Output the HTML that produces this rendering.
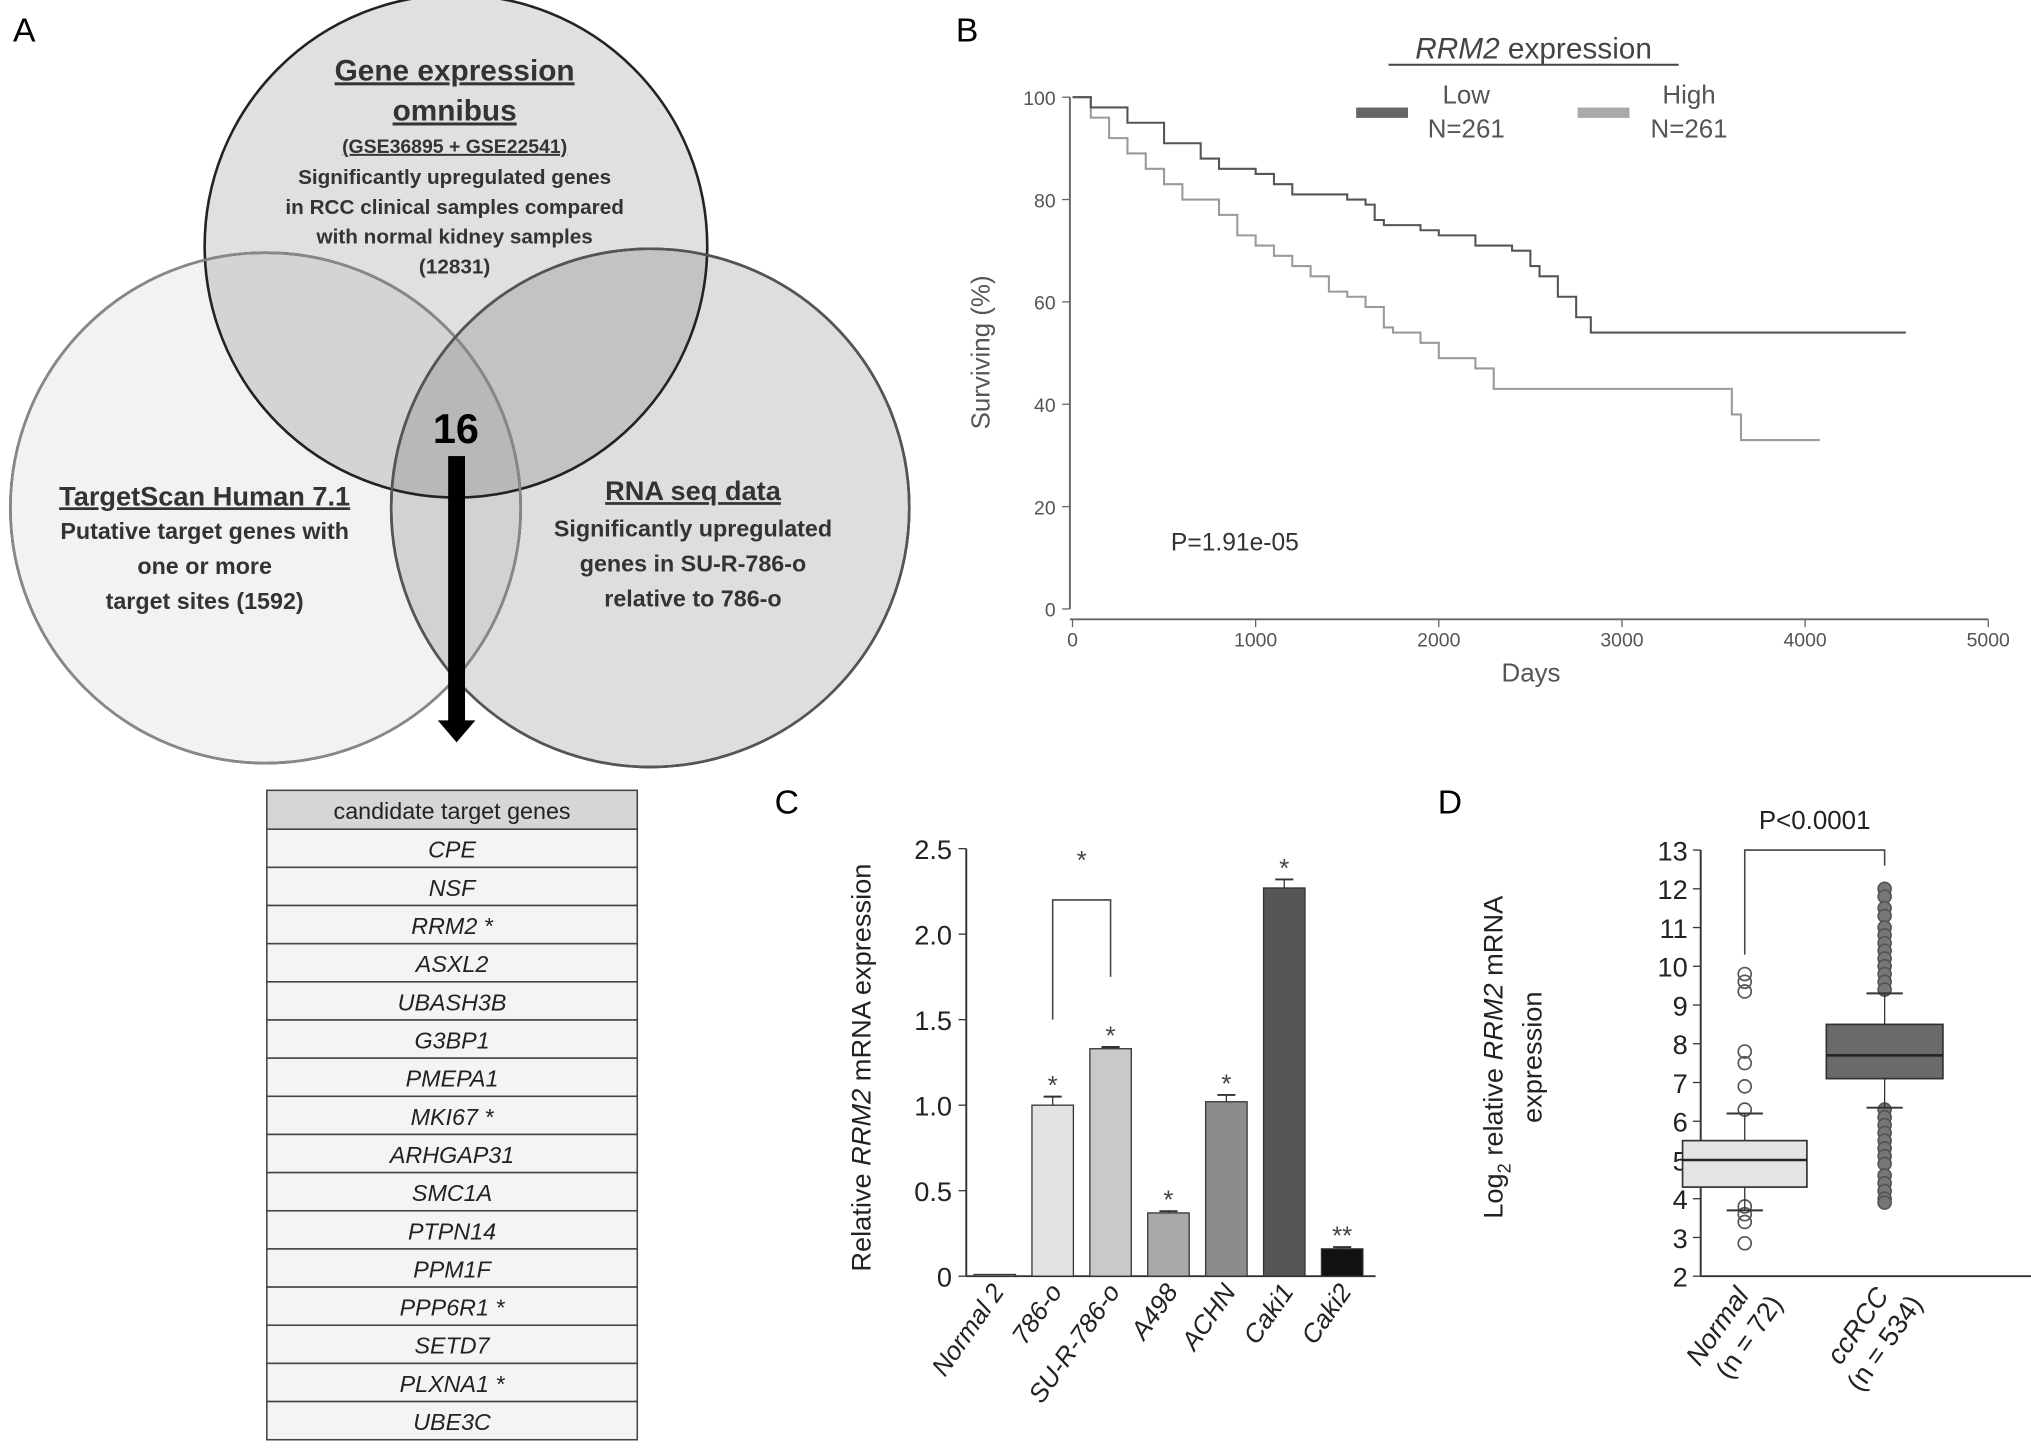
<!DOCTYPE html>
<html><head><meta charset="utf-8"><style>
html,body{margin:0;padding:0;background:#fff}
svg{display:block;font-family:"Liberation Sans","DejaVu Sans",sans-serif}
</style></head><body>
<svg id="fig" width="2031" height="1455" viewBox="0 0 1568 1123" preserveAspectRatio="none" xmlns="http://www.w3.org/2000/svg">
<rect width="1568" height="1123" fill="#fff"/>
<g>
<text x="10" y="32" font-size="26">A</text>
<circle cx="205" cy="392" r="197" fill="#f2f2f2" stroke="#222" stroke-width="2"/>
<circle cx="502" cy="392" r="200" fill="rgba(0,0,0,0.13)" stroke="#222" stroke-width="2"/>
<circle cx="352" cy="190" r="194" fill="rgba(0,0,0,0.12)" stroke="#222" stroke-width="2"/>
<circle cx="205" cy="392" r="197" fill="none" stroke="#888" stroke-width="2"/>
<circle cx="502" cy="392" r="200" fill="none" stroke="#555" stroke-width="2"/>
<g font-weight="bold" fill="#333" text-anchor="middle">
<text x="351" y="62" font-size="23" text-decoration="underline">Gene expression</text>
<text x="351" y="93" font-size="23" text-decoration="underline">omnibus</text>
<text x="351" y="118" font-size="15" text-decoration="underline">(GSE36895 + GSE22541)</text>
<text x="351" y="142" font-size="16">Significantly upregulated genes</text>
<text x="351" y="165" font-size="16">in RCC clinical samples compared</text>
<text x="351" y="188" font-size="16">with normal kidney samples</text>
<text x="351" y="211" font-size="16">(12831)</text>
<text x="158" y="390" font-size="21" text-decoration="underline">TargetScan Human 7.1</text>
<text x="158" y="416" font-size="18">Putative target genes with</text>
<text x="158" y="443" font-size="18">one or more</text>
<text x="158" y="470" font-size="18">target sites (1592)</text>
<text x="535" y="386" font-size="21" text-decoration="underline">RNA seq data</text>
<text x="535" y="414" font-size="18">Significantly upregulated</text>
<text x="535" y="441" font-size="18">genes in SU-R-786-o</text>
<text x="535" y="468" font-size="18">relative to 786-o</text>
<text x="352" y="342" font-size="32" fill="#000">16</text>
</g>
<rect x="346" y="352" width="13" height="210" fill="#000"/>
<polygon points="338,556 367,556 352.5,573" fill="#000"/>
</g>
<g id="table" font-size="18" fill="#222" text-anchor="middle"></g>
<g id="pb"></g>
<g id="pc"></g>
<g id="pd"></g>
</svg>
<script>
const NS="http://www.w3.org/2000/svg";
function mk(p,t,a,txt){const e=document.createElementNS(NS,t);for(const k in a)e.setAttribute(k,a[k]);if(txt!==undefined)e.textContent=txt;p.appendChild(e);return e;}

const genes=["CPE","NSF","RRM2 *","ASXL2","UBASH3B","G3BP1","PMEPA1","MKI67 *","ARHGAP31","SMC1A","PTPN14","PPM1F","PPP6R1 *","SETD7","PLXNA1 *","UBE3C"];
const tb=document.getElementById('table');
let hdr=mk(tb,'rect',{x:206,y:610,width:286,height:30,fill:'#d6d6d6',stroke:'#444','stroke-width':1.2});


mk(tb,'text',{x:349,y:632},'candidate target genes');
genes.forEach((g,i)=>{const y=640+i*29.45;
 const r=mk(tb,'rect',{x:206,y:y,width:286,height:29.45,fill:'#f4f4f4',stroke:'#444','stroke-width':1.2});
 
 
 mk(tb,'text',{x:349,y:y+22,'font-style':'italic'},g);});

const lowT=[0,100,300,500,700,800,1000,1100,1200,1500,1600,1650,1700,1900,2000,2200,2400,2500,2550,2650,2750,2830,4550];
const lowS=[100,98,95,91,88,86,85,83,81,80,79,76,75,74,73,71,70,67,65,61,57,54,54];
const highT=[0,100,200,300,400,500,600,800,900,1000,1100,1200,1300,1400,1500,1600,1700,1750,1900,2000,2200,2300,3550,3600,3650,4080];
const highS=[100,96,92,89,86,83,80,77,73,71,69,67,65,62,61,59,55,54,52,49,47,43,43,38,33,33];
const bXT=[0,1000,2000,3000,4000,5000], bYT=[0,20,40,60,80,100];
const pb=document.getElementById('pb');
const bx=d=>828+d*(1535-828)/5000, by=v=>470-v*3.95;
mk(pb,'text',{x:738,y:32,'font-size':26},'B');
mk(pb,'line',{x1:826,y1:75,x2:826,y2:470,stroke:'#666','stroke-width':1.5});
mk(pb,'line',{x1:826,y1:478,x2:1535,y2:478,stroke:'#666','stroke-width':1.5});
bYT.forEach(v=>{mk(pb,'line',{x1:820,y1:by(v),x2:826,y2:by(v),stroke:'#666'});mk(pb,'text',{x:815,y:by(v)+6,'font-size':15,fill:'#555','text-anchor':'end'},v);});
bXT.forEach(v=>{mk(pb,'line',{x1:bx(v),y1:478,x2:bx(v),y2:484,stroke:'#666'});mk(pb,'text',{x:bx(v),y:499,'font-size':15,fill:'#555','text-anchor':'middle'},v);});
mk(pb,'text',{x:1182,y:526,'font-size':20,fill:'#555','text-anchor':'middle'},'Days');
mk(pb,'text',{x:0,y:0,'font-size':20,fill:'#555','text-anchor':'middle',transform:'translate(764,272) rotate(-90)'},'Surviving (%)');
const ti=mk(pb,'text',{x:1184,y:45,'font-size':23,fill:'#444','text-anchor':'middle'});
mk(ti,'tspan',{'font-style':'italic'},'RRM2');mk(ti,'tspan',{},' expression');
mk(pb,'line',{x1:1072,y1:50,x2:1296,y2:50,stroke:'#444','stroke-width':1.5});
mk(pb,'rect',{x:1047,y:83,width:40,height:8,fill:'#666'});
mk(pb,'text',{x:1132,y:80,'font-size':20,fill:'#555','text-anchor':'middle'},'Low');
mk(pb,'text',{x:1132,y:106,'font-size':20,fill:'#555','text-anchor':'middle'},'N=261');
mk(pb,'rect',{x:1218,y:83,width:40,height:8,fill:'#aaa'});
mk(pb,'text',{x:1304,y:80,'font-size':20,fill:'#555','text-anchor':'middle'},'High');
mk(pb,'text',{x:1304,y:106,'font-size':20,fill:'#555','text-anchor':'middle'},'N=261');
mk(pb,'text',{x:904,y:425,'font-size':19,fill:'#333'},'P=1.91e-05');
function km(T,S,col,name){let d=`M${bx(T[0])},${by(S[0])}`;for(let i=1;i<T.length;i++){d+=` H${bx(T[i])} V${by(S[i])}`;}
 const p=mk(pb,'path',{d:d,fill:'none',stroke:col,'stroke-width':1.6});
 
 }
km(highT,highS,'#9a9a9a','high-expression-curve');
km(lowT,lowS,'#555','low-expression-curve');

const cCats=["Normal 2","786-o","SU-R-786-o","A498","ACHN","Caki1","Caki2"];
const cVals=[0.01,1.0,1.33,0.37,1.02,2.27,0.16];
const cErr=[0,0.05,0.01,0.01,0.04,0.05,0.01];
const cMarks=["","*","*","*","*","*","**"];
const cYT=["0","0.5","1.0","1.5","2.0","2.5"];
const cCol=['#bbb','#e2e2e2','#c9c9c9','#a9a9a9','#8c8c8c','#565656','#111'];
const pc=document.getElementById('pc');
const cy=v=>985-v*132, cx=i=>768+i*44.7;
mk(pc,'text',{x:598,y:628,'font-size':26},'C');
mk(pc,'line',{x1:746,y1:655,x2:746,y2:985,stroke:'#333','stroke-width':1.5});
mk(pc,'line',{x1:746,y1:985,x2:1062,y2:985,stroke:'#333','stroke-width':1.5});
cYT.forEach(t=>{const v=parseFloat(t);mk(pc,'line',{x1:740,y1:cy(v),x2:746,y2:cy(v),stroke:'#333'});mk(pc,'text',{x:735,y:cy(v)+8,'font-size':21,fill:'#222','text-anchor':'end'},t);});
const yl=mk(pc,'text',{x:0,y:0,'font-size':21,fill:'#222','text-anchor':'middle',transform:'translate(672,824) rotate(-90)'});
mk(yl,'tspan',{},'Relative ');mk(yl,'tspan',{'font-style':'italic'},'RRM2');mk(yl,'tspan',{},' mRNA expression');
cCats.forEach((c,i)=>{const x=cx(i);
 const r=mk(pc,'rect',{x:x-16,y:cy(cVals[i]),width:32,height:985-cy(cVals[i]),fill:cCol[i],stroke:'#333','stroke-width':1});
 
 
 if(cErr[i]>0){mk(pc,'line',{x1:x,y1:cy(cVals[i]),x2:x,y2:cy(cVals[i]+cErr[i]),stroke:'#333'});mk(pc,'line',{x1:x-7,y1:cy(cVals[i]+cErr[i]),x2:x+7,y2:cy(cVals[i]+cErr[i]),stroke:'#333','stroke-width':1.5});}
 if(cMarks[i])mk(pc,'text',{x:x,y:cy(cVals[i]+cErr[i])-2,'font-size':20,fill:'#444','text-anchor':'middle'},cMarks[i]);
 mk(pc,'text',{x:0,y:0,'font-size':20,'font-style':'italic',fill:'#222','text-anchor':'end',transform:`translate(${x+8},${997}) rotate(-55)`},c);
});
mk(pc,'path',{d:`M${cx(1)},${cy(1.5)} V${cy(2.2)} H${cx(2)} V${cy(1.75)}`,fill:'none',stroke:'#444','stroke-width':1.2});
mk(pc,'text',{x:(cx(1)+cx(2))/2,y:cy(2.38),'font-size':20,fill:'#444','text-anchor':'middle'},'*');

const dCats=["Normal","ccRCC"], dN=["(n = 72)","(n = 534)"];
const dQ1=[4.3,7.1], dMed=[5.0,7.7], dQ3=[5.5,8.5], dLo=[3.7,6.35], dHi=[6.2,9.3];
const dOutN=[9.8,9.6,9.35,7.8,7.5,6.9,6.3,3.8,3.6,3.4,2.85];
const dOutC=[12.0,11.8,11.5,11.3,11.0,10.8,10.6,10.4,10.2,10.0,9.8,9.6,9.4,6.3,6.1,5.9,5.7,5.5,5.3,5.1,4.9,4.6,4.4,4.2,4.0,3.9];
const dYT=[2,3,4,5,6,7,8,9,10,11,12,13];
const pd=document.getElementById('pd');
const dy=v=>985-(v-2)*29.9, dx=i=>1347+i*108;
mk(pd,'text',{x:1110,y:628,'font-size':26},'D');
mk(pd,'line',{x1:1313,y1:656,x2:1313,y2:985,stroke:'#333','stroke-width':1.5});
mk(pd,'line',{x1:1313,y1:985,x2:1568,y2:985,stroke:'#333','stroke-width':1.5});
dYT.forEach(v=>{mk(pd,'line',{x1:1307,y1:dy(v),x2:1313,y2:dy(v),stroke:'#333'});mk(pd,'text',{x:1303,y:dy(v)+8,'font-size':21,fill:'#222','text-anchor':'end'},v);});
const dl=mk(pd,'text',{x:0,y:0,'font-size':21,fill:'#222','text-anchor':'middle',transform:'translate(1160,816) rotate(-90)'});
mk(dl,'tspan',{},'Log');mk(dl,'tspan',{'font-size':14,dy:6},'2');mk(dl,'tspan',{dy:-6},' relative ');mk(dl,'tspan',{'font-style':'italic'},'RRM2');mk(dl,'tspan',{},' mRNA');
mk(pd,'text',{x:0,y:0,'font-size':21,fill:'#222','text-anchor':'middle',transform:'translate(1190,816) rotate(-90)'},'expression');
const dCol=['#e4e4e4','#6a6a6a'], dW=[48,45];
[dOutN,dOutC].forEach((arr,i)=>arr.forEach(v=>{const c=mk(pd,'circle',{cx:dx(i),cy:dy(v),r:5,fill:i?'#777':'none',stroke:'#555','stroke-width':1.3});
 
 }));
dCats.forEach((c,i)=>{const x=dx(i),w=dW[i];
 mk(pd,'line',{x1:x,y1:dy(dLo[i]),x2:x,y2:dy(dHi[i]),stroke:'#333'});
 mk(pd,'line',{x1:x-14,y1:dy(dLo[i]),x2:x+14,y2:dy(dLo[i]),stroke:'#333','stroke-width':1.5});
 mk(pd,'line',{x1:x-14,y1:dy(dHi[i]),x2:x+14,y2:dy(dHi[i]),stroke:'#333','stroke-width':1.5});
 const b=mk(pd,'rect',{x:x-w,y:dy(dQ3[i]),width:2*w,height:dy(dQ1[i])-dy(dQ3[i]),fill:dCol[i],stroke:'#333','stroke-width':1.3});
 
 
 mk(pd,'line',{x1:x-w,y1:dy(dMed[i]),x2:x+w,y2:dy(dMed[i]),stroke:'#222','stroke-width':2});
 mk(pd,'text',{x:0,y:0,'font-size':21,'font-style':'italic',fill:'#222','text-anchor':'end',transform:`translate(${x+4},${1000}) rotate(-55)`},c);
 mk(pd,'text',{x:0,y:0,'font-size':21,fill:'#222','text-anchor':'end',transform:`translate(${x+30},${1006}) rotate(-55)`},dN[i]);
});
mk(pd,'path',{d:`M${dx(0)},${dy(10.3)} V${dy(13)} H${dx(1)} V${dy(12.6)}`,fill:'none',stroke:'#444','stroke-width':1.2});
mk(pd,'text',{x:(dx(0)+dx(1))/2,y:640,'font-size':20,fill:'#222','text-anchor':'middle'},'P<0.0001');
</script>
</body></html>
